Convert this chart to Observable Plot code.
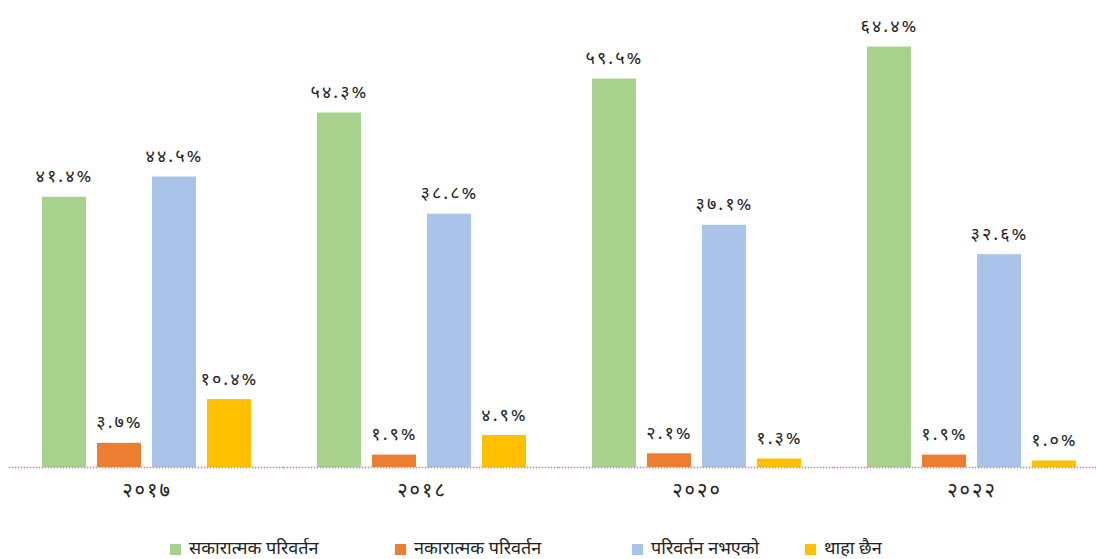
<!DOCTYPE html>
<html>
<head>
<meta charset="utf-8">
<script src="https://cdn.jsdelivr.net/npm/d3@7"></script>
<script src="https://cdn.jsdelivr.net/npm/@observablehq/plot@0.6"></script>
<style>
  body { margin: 0; background: #fff; font-family: "Noto Sans Devanagari", "Lohit Devanagari", "Noto Sans", sans-serif; }
  #wrap { position: relative; width: 1096px; height: 559px; }
  #legend { position: absolute; left: 0; top: 537px; width: 1096px; height: 24px; font-size: 18px; color: #222; }
  .item { position: absolute; top: 0; display: flex; align-items: center; height: 24px; white-space: nowrap; }
  .sw { width: 11px; height: 11px; margin-right: 8px; }
</style>
</head>
<body>
<div id="wrap"><div id="chart"></div><div id="legend"></div></div>
<script>
const years = ["२०१७", "२०१८", "२०२०", "२०२२"];
const series = ["सकारात्मक परिवर्तन", "नकारात्मक परिवर्तन", "परिवर्तन नभएको", "थाहा छैन"];
const colors = ["#A9D18E", "#ED7D31", "#A9C4E8", "#FFC000"];
const positive = [41.4, 54.3, 59.5, 64.4];
const negative = [3.7, 1.9, 2.1, 1.9];
const noChange = [44.5, 38.8, 37.1, 32.6];
const dontKnow = [10.4, 4.9, 1.3, 1.0];

const devDigits = "०१२३४५६७८९";
const toDev = s => String(s).replace(/[0-9]/g, d => devDigits[+d]);

const seriesValues = [positive, negative, noChange, dontKnow];
const rows = [];
years.forEach((yr, i) => {
  series.forEach((s, j) => {
    rows.push({year: yr, series: s, value: seriesValues[j][i]});
  });
});

const chart = Plot.plot({
  width: 1096,
  height: 520,
  marginLeft: 41,
  marginRight: 20,
  marginTop: 10,
  marginBottom: 53,
  style: {fontFamily: "'Noto Sans Devanagari', 'Lohit Devanagari', 'Noto Sans', sans-serif", fontSize: "20px", fontWeight: "normal", letterSpacing: "2px", color: "#222", background: "#fff"},
  fx: {domain: years, paddingInner: 0.2414, paddingOuter: 0, label: null, tickSize: 0, tickPadding: 15, axis: "bottom"},
  x: {domain: series, paddingInner: 0.2, paddingOuter: 0, axis: null},
  y: {domain: [0, 70], axis: null},
  color: {domain: series, range: colors},
  marks: [
    Plot.barY(rows, {fx: "year", x: "series", y: "value", fill: "series"}),
    Plot.ruleY([0], {stroke: "#c07f95", strokeWidth: 1.3, strokeDasharray: "1.5,1.5", insetLeft: -33.25, insetRight: -33.25}),
    Plot.text(rows, {fx: "year", x: "series", y: "value", text: d => toDev(d.value.toFixed(1)) + "%", lineAnchor: "bottom", dy: -15, fontSize: 18, fontWeight: "normal", fill: "#222"})
  ]
});
document.getElementById("chart").appendChild(chart);

const legendLefts = [170, 395, 632, 805];
const legend = document.getElementById("legend");
series.forEach((s, j) => {
  const it = document.createElement("div");
  it.className = "item";
  it.style.left = legendLefts[j] + "px";
  it.innerHTML = `<span class="sw" style="background:${colors[j]}"></span><span>${s}</span>`;
  legend.appendChild(it);
});
</script>
</body>
</html>
